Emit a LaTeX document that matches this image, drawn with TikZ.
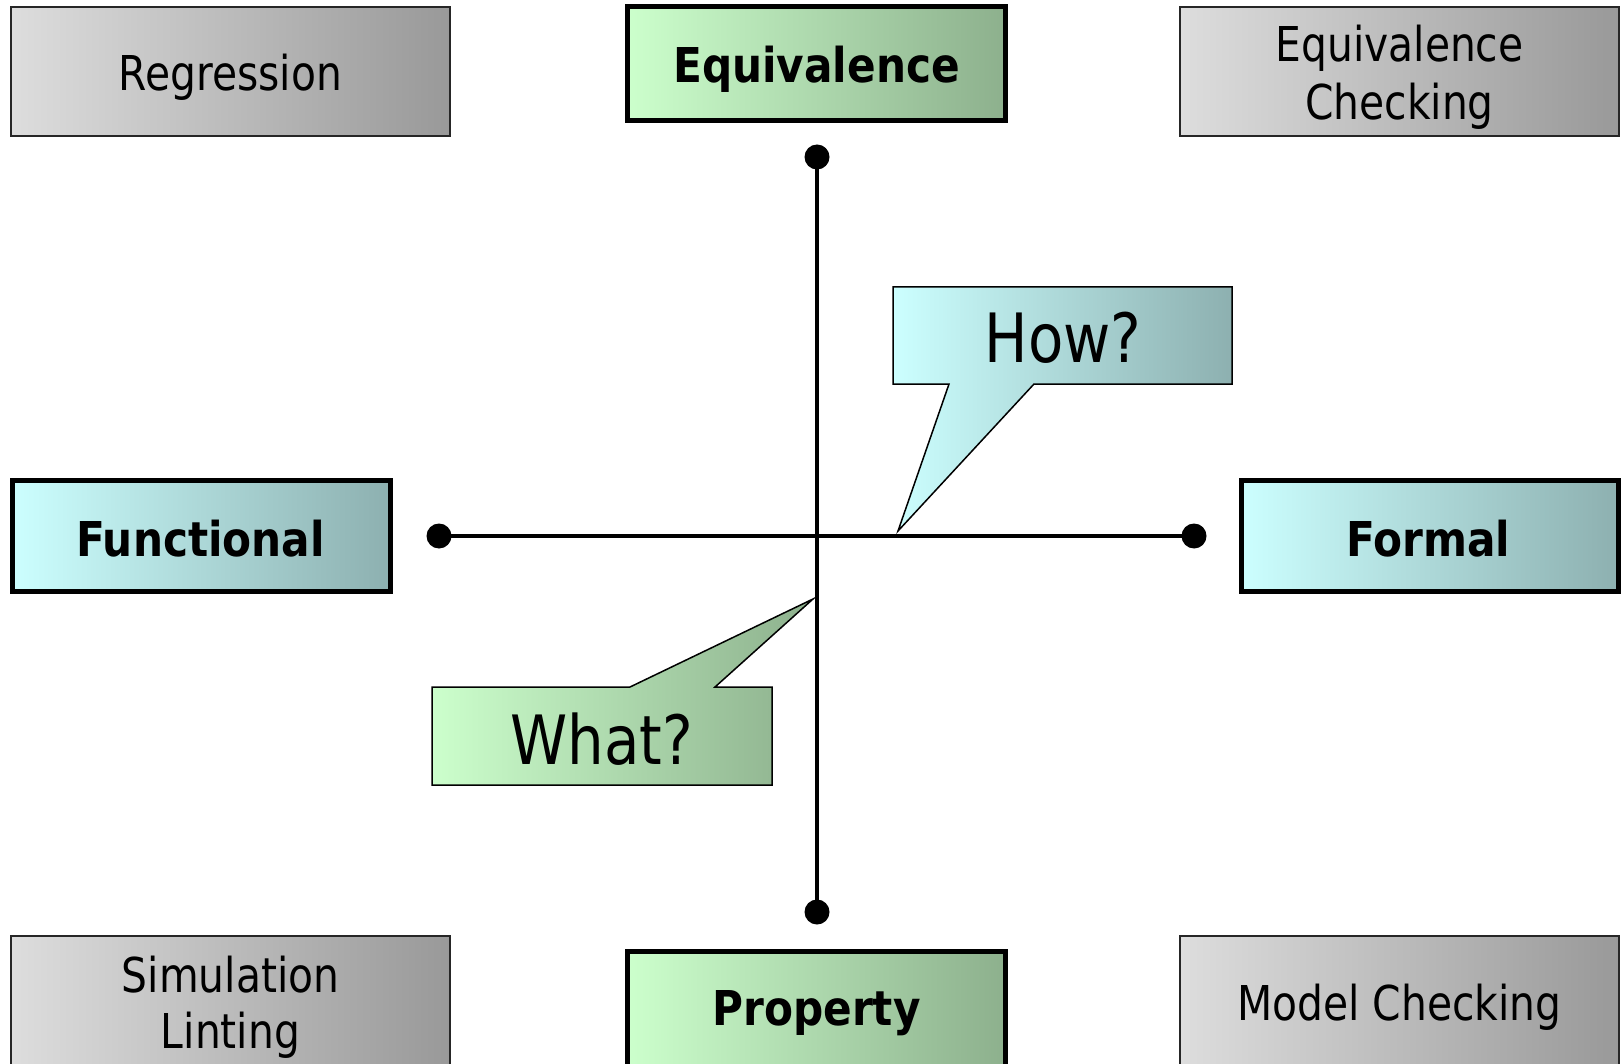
\documentclass[tikz,border=0pt]{standalone}
\usepackage{fontspec}
\setmainfont{DejaVu Sans}[FakeStretch=0.85]
\newfontfamily\headfont{DejaVu Sans}[FakeStretch=0.88]
\definecolor{grayL}{HTML}{DDDDDD}
\definecolor{grayR}{HTML}{999999}
\definecolor{greenL}{HTML}{CCFFCC}
\definecolor{greenR}{HTML}{8DB08D}
\definecolor{cyanL}{HTML}{CCFFFF}
\definecolor{cyanR}{HTML}{8DB0B0}
\begin{document}
\begin{tikzpicture}[x=1pt,y=-1pt,
  graybox/.style={rectangle, inner sep=0pt, draw=black!85, line width=1.5pt,
    left color=grayL, right color=grayR},
  greenaxis/.style={rectangle, inner sep=0pt, draw=black, line width=5pt,
    left color=greenL, right color=greenR},
  cyanaxis/.style={rectangle, inner sep=0pt, draw=black, line width=5pt,
    left color=cyanL, right color=cyanR},
  dot/.style={circle, fill=black, inner sep=0pt, minimum size=25pt},
  axisline/.style={line width=4.3pt},
  calloutline/.style={draw=black, line width=1.5pt},
  plain/.style={anchor=base, inner sep=0pt, font=\fontsize{48}{56}\selectfont},
  heavy/.style={anchor=base, inner sep=0pt, font=\headfont\bfseries\fontsize{48}{56}\selectfont},
  big/.style={anchor=base, inner sep=0pt, font=\fontsize{68}{80}\selectfont}]

\useasboundingbox (0,0) rectangle (1624,1064);
\clip (0,0) rectangle (1624,1064);

% corner technique boxes
\node[graybox, minimum width=439pt, minimum height=129pt] (regbox) at (230.5,71.5) {};
\node[graybox, minimum width=439pt, minimum height=129pt] (eqcbox) at (1399.5,71.5) {};
\node[graybox, minimum width=439pt, minimum height=134pt] (simbox) at (230.5,1003) {};
\node[graybox, minimum width=439pt, minimum height=134pt] (mcbox) at (1399.5,1003) {};

% axis end boxes
\node[greenaxis, minimum width=378pt, minimum height=114pt] (eqbox) at (816.5,64) {};
\node[greenaxis, minimum width=378pt, minimum height=122pt] (propbox) at (816.5,1012) {};
\node[cyanaxis, minimum width=378pt, minimum height=111pt] (funcbox) at (201,535.5) {};
\node[cyanaxis, minimum width=377pt, minimum height=111pt] (formbox) at (1429.5,535.5) {};

% axes with end dots
\node[dot] (dtop) at (817,157) {};
\node[dot] (dbot) at (817,912) {};
\node[dot] (dleft) at (439,536) {};
\node[dot] (dright) at (1194,536) {};
\draw[axisline] (dtop.center) -- (dbot.center);
\draw[axisline] (dleft.center) -- (dright.center);

% callouts
\coordinate (howtip) at (898,531);
\coordinate (whattip) at (813,599);
\shadedraw[calloutline, left color=cyanL, right color=cyanR]
  (893,287) -- (1232,287) -- (1232,384) -- (1034,384) -- (howtip)
  -- (949,384) -- (893,384) -- cycle;
\shadedraw[calloutline, left color=greenL, right color=greenR]
  (432,687) -- (630,687) -- (whattip) -- (715,687) -- (772,687)
  -- (772,785) -- (432,785) -- cycle;

% labels
\node[plain] (regtxt) at (230.5,91) {Regression};
\node[plain] (eqctxt1) at (1399.5,62) {Equivalence};
\node[plain] (eqctxt2) at (1399.5,120) {Checking};
\node[plain] (simtxt1) at (230.5,992) {Simulation};
\node[plain] (simtxt2) at (230.5,1048) {Linting};
\node[plain] (mctxt) at (1399.5,1020) {Model Checking};
\node[heavy] (eqtxt) at (816.5,83) {Equivalence};
\node[heavy] (proptxt) at (816.5,1025) {Property};
\node[heavy] (functxt) at (200.5,556) {Functional};
\node[heavy] (formtxt) at (1428,556) {Formal};
\node[big] (howtxt) at (1063,362) {How?};
\node[big] (whattxt) at (602,764) {What?};
\end{tikzpicture}
\end{document}
